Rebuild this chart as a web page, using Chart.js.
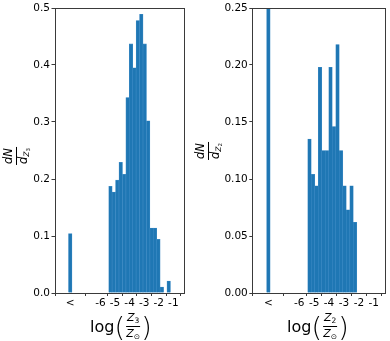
<!DOCTYPE html>
<html>
<head>
<meta charset="utf-8">
<script src="https://cdn.jsdelivr.net/npm/chart.js@4.4.0/dist/chart.umd.min.js"></script>
<style>
  html, body { margin: 0; padding: 0; background: #fff; }
  #wrap { position: relative; width: 390px; height: 341px; overflow: hidden; font-family: 'DejaVu Sans', sans-serif; color: #000; }
  canvas { position: absolute; top: 0; }
  .xt { position: absolute; display: flex; align-items: center; transform: translate(-50%, -50%); white-space: nowrap; }
  .xt .log { font-size: 16px; line-height: 1; position: relative; top: 1px; }
  .xt .par { font-size: 27px; line-height: 1; font-weight: 300; }
  .frac { display: inline-flex; flex-direction: column; align-items: center; margin: 0 1px; }
  .frac .num { border-bottom: 1px solid #000; padding: 0 1px 1px 1px; line-height: 1; }
  .frac .den { padding-top: 1px; line-height: 1; }
  .xt .frac { font-size: 11px; }
  .xt i, .yt i { font-style: italic; }
  .xt sub { font-size: 7.5px; vertical-align: -2px; line-height: 1; }
  .yt { position: absolute; transform: translate(-50%, -50%) rotate(-90deg); white-space: nowrap; font-size: 11.5px; }
  .yt sub { font-size: 7.5px; vertical-align: -2px; line-height: 1; }
  .yt sub sub { font-size: 5.5px; vertical-align: -1px; }
</style>
</head>
<body>
<div id="wrap">
  <canvas id="c1" width="195" height="341" style="left:0px"></canvas>
  <canvas id="c2" width="195" height="341" style="left:195px"></canvas>

  <div class="yt" style="left:16px; top:156px;">
    <span class="frac"><span class="num"><i>dN</i></span><span class="den"><i>d</i><sub><i>Z</i><sub>3</sub></sub></span></span>
  </div>
  <div class="yt" style="left:208px; top:151px;">
    <span class="frac"><span class="num"><i>dN</i></span><span class="den"><i>d</i><sub><i>Z</i><sub>2</sub></sub></span></span>
  </div>

  <div class="xt" style="left:121px; top:326px;">
    <span class="log">log</span><span class="par">(</span><span class="frac"><span class="num"><i>Z</i><sub>3</sub></span><span class="den"><i>Z</i><sub>⊙</sub></span></span><span class="par">)</span>
  </div>
  <div class="xt" style="left:318px; top:326px;">
    <span class="log">log</span><span class="par">(</span><span class="frac"><span class="num"><i>Z</i><sub>2</sub></span><span class="den"><i>Z</i><sub>⊙</sub></span></span><span class="par">)</span>
  </div>
</div>

<script>
// ---- Data ----
// Bin centers of the histogram (log Z / Zsun), bin width ~0.235 dex
const binCentersZ3 = [-5.3125, -5.0775, -4.8425, -4.6075, -4.3725, -4.1375, -3.9025, -3.6675, -3.4325,
                      -3.1975, -2.9625, -2.7275, -2.4925, -2.2575, -2.0225, -1.7875, -1.5525, -1.3175];
const densityZ3 = [0.187, 0.177, 0.198, 0.229, 0.208, 0.343, 0.437, 0.395, 0.478,
                   0.489, 0.437, 0.302, 0.114, 0.114, 0.094, 0.0104, 0, 0.021];
const binCentersZ2 = [-5.3125, -5.0775, -4.8425, -4.6075, -4.3725, -4.1375, -3.9025, -3.6675, -3.4325,
                      -3.1975, -2.9625, -2.7275, -2.4925, -2.2575];
const densityZ2 = [0.135, 0.104, 0.094, 0.198, 0.125, 0.125, 0.198, 0.146, 0.218,
                   0.125, 0.094, 0.073, 0.094, 0.062];
// "<" (below threshold) bar
const lessPosition = -8.07;
const lessZ3 = 0.104;
const lessZ2 = 0.60;   // clipped at the top of the panel
// Tick labels
const xTickValues = [lessPosition, -6, -5, -4, -3, -2, -1];
const xTickLabels = ['<', '-6', '-5', '-4', '-3', '-2', '-1'];
const yTicksZ3 = ['0.0', '0.1', '0.2', '0.3', '0.4', '0.5'];
const yTicksZ2 = ['0.00', '0.05', '0.10', '0.15', '0.20', '0.25'];

const frame = {
  id: 'frame',
  afterDraw(chart) {
    const a = chart.chartArea, ctx = chart.ctx;
    ctx.save();
    ctx.strokeStyle = '#3a3a3a';
    ctx.lineWidth = 1;
    ctx.strokeRect(Math.round(a.left) + 0.5, Math.round(a.top) + 0.5,
                   Math.round(a.right) - Math.round(a.left) - 1, Math.round(a.bottom) - Math.round(a.top));
    ctx.restore();
  }
};

function makeChart(id, centers, values, lessVal, yMax, yStep, yLabels, yAxisWidth, padRight) {
  const pts = [{x: lessPosition, y: lessVal}].concat(centers.map((c, i) => ({x: c, y: values[i]})));
  return new Chart(document.getElementById(id), {
    type: 'bar',
    data: { datasets: [{
      data: pts,
      backgroundColor: '#1f77b4',
      borderColor: '#3f8cc6',
      borderWidth: 0.6,
      inflateAmount: 0.35,
      barPercentage: 1,
      categoryPercentage: 1,
      grouped: false
    }]},
    options: {
      responsive: false,
      animation: false,
      devicePixelRatio: 1,
      layout: { padding: { top: 8, right: padRight, left: 0, bottom: 0 } },
      plugins: { legend: { display: false }, tooltip: { enabled: false } },
      scales: {
        x: {
          type: 'linear',
          min: -9.15, max: -0.2,
          offset: false,
          afterBuildTicks: s => { s.ticks = xTickValues.map(v => ({ value: v })); },
          afterFit: s => { s.height = 48; },
          grid: { display: true, drawOnChartArea: false, drawTicks: true, tickLength: 3, color: '#3a3a3a' },
          border: { display: false },
          ticks: {
            autoSkip: false, maxRotation: 0, padding: 1,
            color: '#000',
            font: { family: 'DejaVu Sans', size: 10.5 },
            callback: (v, i) => xTickLabels[i]
          }
        },
        y: {
          min: 0, max: yMax,
          afterBuildTicks: s => { s.ticks = yLabels.map((t, i) => ({ value: i * yStep })); },
          afterFit: s => { s.width = yAxisWidth; },
          grid: { display: true, drawOnChartArea: false, drawTicks: true, tickLength: 3, color: '#3a3a3a' },
          border: { display: false },
          ticks: {
            padding: 1.5,
            color: '#000',
            font: { family: 'DejaVu Sans', size: 10.5 },
            callback: (v, i) => yLabels[i]
          }
        }
      }
    },
    plugins: [frame]
  });
}

makeChart('c1', binCentersZ3, densityZ3, lessZ3, 0.5, 0.1, yTicksZ3, 54.5, 10);
makeChart('c2', binCentersZ2, densityZ2, lessZ2, 0.25, 0.05, yTicksZ2, 57.3, 4.3);
</script>
</body>
</html>
